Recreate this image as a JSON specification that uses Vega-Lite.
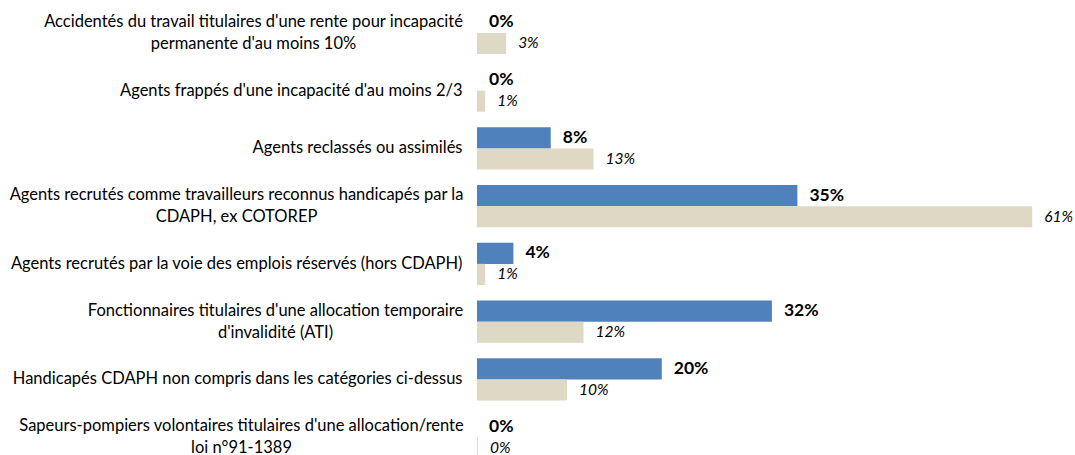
{
  "$schema": "https://vega.github.io/schema/vega-lite/v6.json",
  "width": 598,
  "height": 462,
  "autosize": {"type": "none"},
  "padding": {"left": 477, "top": 4, "right": 0, "bottom": 0},
  "background": "white",
  "config": {"view": {"stroke": null}, "font": "Lato"},
  "data": {
    "values": [
      {"cat": "Accidentés du travail titulaires d'une rente pour incapacité|permanente d'au moins 10%", "serie": "1", "v": 0},
      {"cat": "Accidentés du travail titulaires d'une rente pour incapacité|permanente d'au moins 10%", "serie": "2", "v": 0.032},
      {"cat": "Agents frappés d'une incapacité d'au moins 2/3", "serie": "1", "v": 0},
      {"cat": "Agents frappés d'une incapacité d'au moins 2/3", "serie": "2", "v": 0.009},
      {"cat": "Agents reclassés ou assimilés", "serie": "1", "v": 0.081},
      {"cat": "Agents reclassés ou assimilés", "serie": "2", "v": 0.128},
      {"cat": "Agents recrutés comme travailleurs reconnus handicapés par la|CDAPH, ex COTOREP", "serie": "1", "v": 0.352},
      {"cat": "Agents recrutés comme travailleurs reconnus handicapés par la|CDAPH, ex COTOREP", "serie": "2", "v": 0.61},
      {"cat": "Agents recrutés par la voie des emplois réservés (hors CDAPH)", "serie": "1", "v": 0.04},
      {"cat": "Agents recrutés par la voie des emplois réservés (hors CDAPH)", "serie": "2", "v": 0.009},
      {"cat": "Fonctionnaires titulaires d'une allocation temporaire|d'invalidité (ATI)", "serie": "1", "v": 0.324},
      {"cat": "Fonctionnaires titulaires d'une allocation temporaire|d'invalidité (ATI)", "serie": "2", "v": 0.117},
      {"cat": "Handicapés CDAPH non compris dans les catégories ci-dessus", "serie": "1", "v": 0.203},
      {"cat": "Handicapés CDAPH non compris dans les catégories ci-dessus", "serie": "2", "v": 0.099},
      {"cat": "Sapeurs-pompiers volontaires titulaires d'une allocation/rente|loi n°91-1389", "serie": "1", "v": 0},
      {"cat": "Sapeurs-pompiers volontaires titulaires d'une allocation/rente|loi n°91-1389", "serie": "2", "v": 0.001}
    ]
  },
  "encoding": {
    "y": {
      "field": "cat",
      "type": "nominal",
      "sort": null,
      "scale": {"paddingInner": 0.27, "paddingOuter": 0.135},
      "axis": {
        "title": null,
        "domain": false,
        "ticks": false,
        "labelFontSize": 16.5,
        "labelColor": "#000000",
        "labelExpr": "split(datum.value, '|')",
        "labelLineHeight": 22,
        "labelLimit": 0,
        "labelAlign": {"condition": {"test": "indexof(datum.value, '|') >= 0", "value": "center"}, "value": "right"},
        "labelOffset": {"condition": {"test": "indexof(datum.value, '|') >= 0", "value": -11}, "value": 0},
        "labelPadding": {
          "condition": [
            {"test": "indexof(datum.value, 'Accidentés') === 0", "value": 224},
            {"test": "indexof(datum.value, 'Agents recrutés comme') === 0", "value": 241},
            {"test": "indexof(datum.value, 'Fonctionnaires') === 0", "value": 202},
            {"test": "indexof(datum.value, 'Sapeurs') === 0", "value": 236}
          ],
          "value": 15
        }
      }
    },
    "yOffset": {"field": "serie", "type": "nominal", "scale": {"paddingInner": 0, "paddingOuter": 0}},
    "x": {"field": "v", "type": "quantitative", "scale": {"domain": [0, 0.657], "nice": false}, "axis": null}
  },
  "layer": [
    {
      "mark": {"type": "bar"},
      "encoding": {
        "color": {"field": "serie", "type": "nominal", "scale": {"domain": ["1", "2"], "range": ["#4F81BD", "#DDD9C4"]}, "legend": null}
      }
    },
    {
      "transform": [{"filter": "datum.serie === '1'"}],
      "mark": {"type": "text", "align": "left", "baseline": "middle", "dx": 12, "fontSize": 17.5, "fontWeight": "bold", "color": "#000000"},
      "encoding": {"text": {"field": "v", "type": "quantitative", "format": ".0%"}}
    },
    {
      "transform": [{"filter": "datum.serie === '2'"}],
      "mark": {"type": "text", "align": "left", "baseline": "middle", "dx": 12, "fontSize": 15.5, "fontStyle": "italic", "color": "#000000"},
      "encoding": {"text": {"field": "v", "type": "quantitative", "format": ".0%"}}
    }
  ]
}
